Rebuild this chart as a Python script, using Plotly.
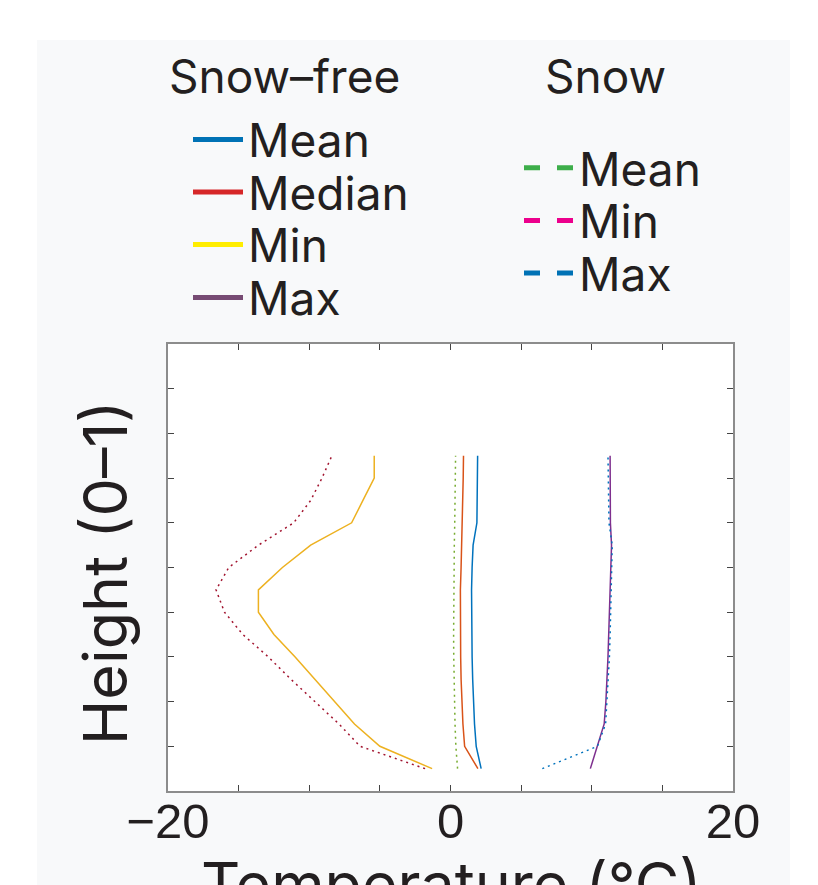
import plotly.graph_objects as go

# ---------------- data ----------------
heights = [0.05, 0.10, 0.15, 0.20, 0.25, 0.30, 0.35, 0.40, 0.45, 0.50, 0.55, 0.60, 0.65, 0.70, 0.75]

free_mean = [2.17, 1.82, 1.70, 1.62, 1.57, 1.53, 1.50, 1.47, 1.49, 1.53, 1.60, 1.87, 1.90, 1.92, 1.92]
free_median = [1.94, 1.00, 0.88, 0.80, 0.75, 0.72, 0.70, 0.68, 0.70, 0.75, 0.80, 0.85, 0.88, 0.90, 0.92]
free_min = [-1.3, -5.0, -6.8, -8.2, -9.6, -11.0, -12.5, -13.6, -13.6, -11.9, -9.9, -7.0, -6.2, -5.4, -5.4]
free_max = [9.9, 10.4, 10.88, 11.0, 11.1, 11.15, 11.2, 11.25, 11.3, 11.35, 11.4, 11.32, 11.3, 11.3, 11.3]

snow_mean = [0.50, 0.38, 0.32, 0.28, 0.25, 0.23, 0.22, 0.22, 0.23, 0.25, 0.27, 0.30, 0.32, 0.34, 0.36]
snow_min = [-1.8, -6.4, -7.9, -9.6, -11.3, -12.9, -14.7, -16.0, -16.6, -15.7, -13.6, -11.1, -9.9, -9.1, -8.4]
snow_max = [6.5, 10.4, 10.98, 11.08, 11.15, 11.25, 11.3, 11.35, 11.4, 11.42, 11.45, 11.22, 11.18, 11.15, 11.15]

x_tickvals = [-20, -15, -10, -5, 0, 5, 10, 15, 20]
x_ticktext = ["\u221220", "", "", "", "0", "", "", "", "20"]
y_tickvals = [0, 0.1, 0.2, 0.3, 0.4, 0.5, 0.6, 0.7, 0.8, 0.9, 1.0]

free_labels = ["Mean", "Median", "Min", "Max"]
snow_labels = ["Mean", "Min", "Max"]

x_title = "Temperature (\u00b0C)"
y_title = "Height (0\u20131)"

# ---------------- styles ----------------
W, H = 818, 885
L, R, T, B = 168, 85, 344, 94
PW, PH = W - L - R, H - T - B

TEXT = "#231F20"
CARD = "#F8F9FA"
UI_FONT = "Inter"
TICK_FONT = "Liberation Sans"

plot_styles = [
    (free_mean, "#0072BD", "solid"),
    (free_median, "#D95319", "solid"),
    (free_min, "#EDB120", "solid"),
    (free_max, "#7E2F8E", "solid"),
    (snow_mean, "#77AC30", "2px,4px"),
    (snow_min, "#A2142F", "2px,4px"),
    (snow_max, "#0072BD", "2px,4px"),
]

fig = go.Figure()
for vals, col, dash in plot_styles:
    fig.add_trace(go.Scatter(
        x=vals, y=heights, mode="lines", showlegend=False, hoverinfo="skip",
        line=dict(color=col, width=1.5, dash=dash),
    ))

# legend entries (legend colours differ from the plotted colours in the reference)
free_leg_colors = ["#0072B5", "#D62728", "#FFED00", "#774B73"]
snow_leg_colors = ["#3DAE4A", "#EC008C", "#0072B5"]
free_leg_y = [145, 197.5, 250, 303]
snow_leg_y = [173.3, 226, 278.7]

legends = {}
idx = 1
for lab, col, py in zip(free_labels, free_leg_colors, free_leg_y):
    name = "legend" if idx == 1 else f"legend{idx}"
    fig.add_trace(go.Scatter(x=[None], y=[None], mode="lines", name=lab, legend=name,
                             line=dict(color=col, width=5)))
    legends[name] = (188, py - 5.5)
    idx += 1
for lab, col, py in zip(snow_labels, snow_leg_colors, snow_leg_y):
    name = f"legend{idx}"
    fig.add_trace(go.Scatter(x=[None], y=[None], mode="lines", name=lab, legend=name,
                             line=dict(color=col, width=5, dash="16px,17px")))
    legends[name] = (519, py - 5.5)
    idx += 1

layout_legends = {}
for name, (px, py) in legends.items():
    layout_legends[name] = dict(
        x=px / W, xref="container", xanchor="left",
        y=1 - py / H, yref="container", yanchor="middle",
        bgcolor="rgba(0,0,0,0)", borderwidth=0, itemwidth=50,
        font=dict(family=UI_FONT, size=46, color=TEXT),
    )

def paper_x(px):
    return (px - L) / PW

def paper_y(py):
    return (H - B - py) / PH

fig.update_layout(
    width=W, height=H,
    margin=dict(l=L, r=R, t=T, b=B, pad=0, autoexpand=False),
    paper_bgcolor=CARD, plot_bgcolor="white",
    **layout_legends,
    annotations=[
        dict(text="Snow\u2013free", x=paper_x(167), y=paper_y(76), xref="paper", yref="paper",
             xanchor="left", yanchor="middle", showarrow=False,
             font=dict(family=UI_FONT, size=46, color=TEXT)),
        dict(text="Snow", x=paper_x(605), y=paper_y(76), xref="paper", yref="paper",
             xanchor="center", yanchor="middle", showarrow=False,
             font=dict(family=UI_FONT, size=46, color=TEXT)),
        dict(text=y_title, x=paper_x(104.5), y=paper_y(572.5), xref="paper", yref="paper",
             xanchor="center", yanchor="middle", textangle=-90, showarrow=False,
             font=dict(family=UI_FONT, size=61, color=TEXT)),
        dict(text=x_title, x=paper_x(451), y=paper_y(884), xref="paper", yref="paper",
             xanchor="center", yanchor="middle", showarrow=False,
             font=dict(family=UI_FONT, size=61, color=TEXT)),
    ],
    shapes=[
        dict(type="rect", xref="paper", yref="paper", layer="below", line=dict(width=0),
             fillcolor="white", x0=paper_x(-20), x1=paper_x(W + 20), y0=paper_y(40), y1=paper_y(-20)),
        dict(type="rect", xref="paper", yref="paper", layer="below", line=dict(width=0),
             fillcolor="white", x0=paper_x(-20), x1=paper_x(37), y0=paper_y(H + 20), y1=paper_y(-20)),
        dict(type="rect", xref="paper", yref="paper", layer="below", line=dict(width=0),
             fillcolor="white", x0=paper_x(790), x1=paper_x(W + 20), y0=paper_y(H + 20), y1=paper_y(-20)),
    ],
    xaxis=dict(
        range=[-20, 20], tickmode="array", tickvals=x_tickvals, ticktext=x_ticktext,
        ticks="inside", ticklen=6, tickwidth=1, tickcolor="#444444",
        showline=True, linecolor="#8C8C8C", linewidth=2, mirror="ticks",
        showgrid=False, zeroline=False, automargin=False, ticklabelstandoff=-14,
        tickfont=dict(family=TICK_FONT, size=49, color=TEXT),
    ),
    yaxis=dict(
        range=[0, 1], tickmode="array", tickvals=y_tickvals, showticklabels=False,
        ticks="inside", ticklen=6, tickwidth=1, tickcolor="#444444",
        showline=True, linecolor="#8C8C8C", linewidth=2, mirror="ticks",
        showgrid=False, zeroline=False, automargin=False,
    ),
)

fig.write_html("out.html", config={"displayModeBar": False},
               post_script="document.body.style.margin='0';")
